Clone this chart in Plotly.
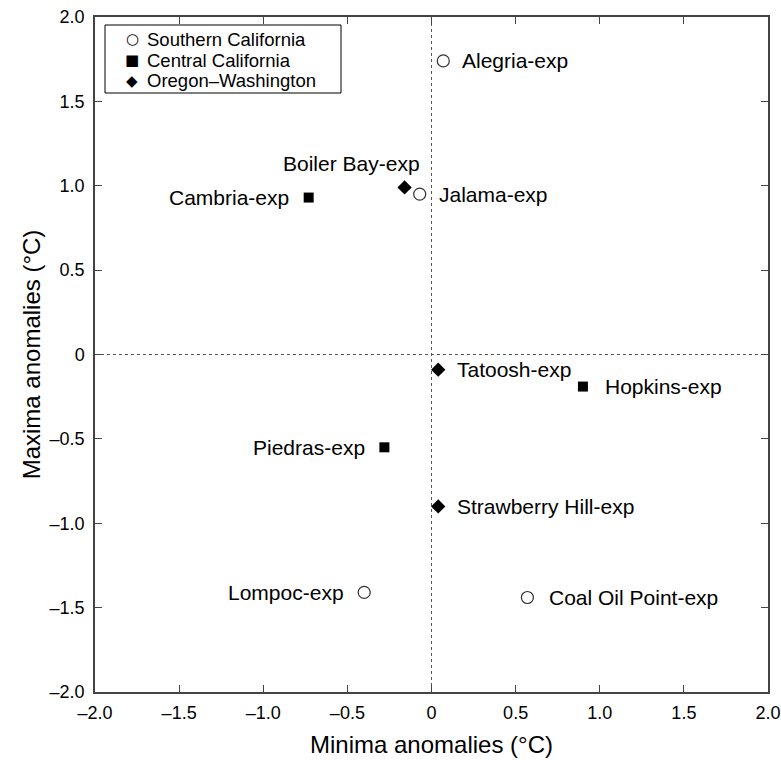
import plotly.graph_objects as go

# ---- data ----
sites = ["Alegria-exp", "Jalama-exp", "Lompoc-exp", "Coal Oil Point-exp",
         "Cambria-exp", "Hopkins-exp", "Piedras-exp",
         "Boiler Bay-exp", "Tatoosh-exp", "Strawberry Hill-exp"]
regions = ["Southern California", "Southern California", "Southern California", "Southern California",
           "Central California", "Central California", "Central California",
           "Oregon\u2013Washington", "Oregon\u2013Washington", "Oregon\u2013Washington"]
minima = [0.07, -0.07, -0.40, 0.57, -0.73, 0.90, -0.28, -0.16, 0.04, 0.04]
maxima = [1.74, 0.95, -1.41, -1.44, 0.93, -0.19, -0.55, 0.99, -0.09, -0.90]

tick_vals = [-2.0, -1.5, -1.0, -0.5, 0, 0.5, 1.0, 1.5, 2.0]
tick_text = ["\u20132.0", "\u20131.5", "\u20131.0", "\u20130.5", "0", "0.5", "1.0", "1.5", "2.0"]

region_order = ["Southern California", "Central California", "Oregon\u2013Washington"]
legend_glyphs = ["\u25cb", "\u25a0", "\u25c6"]

# ---- styles ----
marker_styles = {
    "Southern California": dict(symbol="circle-open", size=12, color="#333333", line=dict(width=1.2, color="#333333")),
    "Central California": dict(symbol="square", size=10, color="black"),
    "Oregon\u2013Washington": dict(symbol="diamond", size=11, color="black"),
}
# label placement: (xanchor, xshift, yshift)
label_place = {
    "Boiler Bay-exp": ("right", 17, 24),
    "Cambria-exp": ("right", -18, 0),
    "Piedras-exp": ("right", -17, 0),
    "Lompoc-exp": ("right", -18, 0),
    "Hopkins-exp": ("left", 20, 0),
    "Coal Oil Point-exp": ("left", 20, 0),
}

FONT = "Liberation Sans, Arial, sans-serif"

fig = go.Figure()
for reg in region_order:
    idx = [i for i, r in enumerate(regions) if r == reg]
    fig.add_trace(go.Scatter(
        x=[minima[i] for i in idx], y=[maxima[i] for i in idx],
        mode="markers", name=reg, marker=marker_styles[reg], showlegend=False,
    ))

for s, xv, yv in zip(sites, minima, maxima):
    xa, xs, ys = label_place.get(s, ("left", 17, 0))
    fig.add_annotation(x=xv, y=yv, text=s, showarrow=False, xanchor=xa, yanchor="middle",
                       xshift=xs, yshift=ys, font=dict(size=21, color="black", family=FONT))

# dotted zero lines
fig.add_shape(type="line", xref="x", yref="paper", x0=0, x1=0, y0=0, y1=1,
              line=dict(color="#555555", width=1, dash="dot"), layer="below")
fig.add_shape(type="line", xref="paper", yref="y", x0=0, x1=1, y0=0, y1=0,
              line=dict(color="#555555", width=1, dash="dot"), layer="below")

# legend box (paper coords) with glyph entries
PW, PH = 673.0, 675.0
box_l, box_r, box_t, box_b = 10 / PW, 246 / PW, 1 - 8 / PH, 1 - 76 / PH
fig.add_shape(type="rect", xref="paper", yref="paper", x0=box_l, x1=box_r, y0=box_b, y1=box_t,
              line=dict(color="black", width=1), fillcolor="white", layer="above")
for k, (reg, g) in enumerate(zip(region_order, legend_glyphs)):
    yc = 1 - (22 + 21 * k) / PH
    fig.add_annotation(xref="paper", yref="paper", x=37 / PW, y=yc, text=g, showarrow=False,
                       xanchor="center", yanchor="middle", font=dict(size=15, color="black", family="DejaVu Sans"))
    fig.add_annotation(xref="paper", yref="paper", x=50 / PW, y=yc, text=reg, showarrow=False,
                       xanchor="left", yanchor="middle", font=dict(size=18.5, color="black", family=FONT))

axis_common = dict(
    range=[-2, 2], tickvals=tick_vals, ticktext=tick_text,
    ticks="inside", ticklen=7, tickwidth=1.2, tickcolor="#444444",
    showline=True, linecolor="#444444", linewidth=1.5, mirror="ticks",
    showgrid=False, zeroline=False, automargin=False, ticklabeloverflow="allow",
    tickfont=dict(size=18, color="black", family=FONT),
)

fig.update_layout(
    width=781, height=760,
    margin=dict(l=95, r=13, t=17, b=68),
    plot_bgcolor="white", paper_bgcolor="white",
    font=dict(family=FONT, color="black"),
    xaxis=dict(**axis_common, ticklabelstandoff=4,
               title=dict(text="Minima anomalies (\u00b0C)", font=dict(size=24), standoff=14)),
    yaxis=dict(**axis_common, ticklabelstandoff=5,
               title=dict(text="Maxima anomalies (\u00b0C)", font=dict(size=24), standoff=2)),
    showlegend=False,
)

fig.write_html("out.html", config={"displayModeBar": False},
               post_script="document.body.style.margin='0';document.body.style.overflow='hidden';")
